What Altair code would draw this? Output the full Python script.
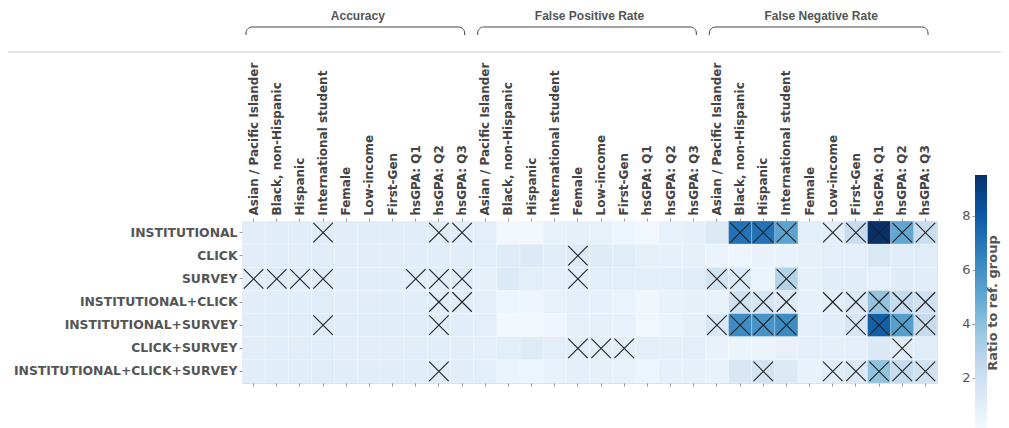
import altair as alt
import pandas as pd

models = ["INSTITUTIONAL", "CLICK", "SURVEY", "INSTITUTIONAL+CLICK",
          "INSTITUTIONAL+SURVEY", "CLICK+SURVEY", "INSTITUTIONAL+CLICK+SURVEY"]
metrics = ["Accuracy", "False Positive Rate", "False Negative Rate"]
subgroups = ["Asian / Pacific Islander", "Black, non-Hispanic", "Hispanic",
             "International student", "Female", "Low-income", "First-Gen",
             "hsGPA: Q1", "hsGPA: Q2", "hsGPA: Q3"]

# ratio to reference group, one list per model (rows), one value per subgroup
accuracy_ratio = [
    [1.02, 1.03, 1.03, 1.12, 1.02, 1.03, 1.03, 1.04, 1.06, 1.06],
    [1.02, 1.03, 1.04, 1.05, 1.02, 1.02, 1.02, 1.03, 1.03, 1.03],
    [1.06, 1.15, 1.07, 1.10, 1.03, 1.03, 1.03, 1.06, 1.08, 1.08],
    [1.02, 1.04, 1.04, 1.08, 1.02, 1.03, 1.03, 1.04, 1.06, 1.06],
    [1.03, 1.06, 1.05, 1.12, 1.03, 1.03, 1.03, 1.05, 1.08, 1.06],
    [1.02, 1.03, 1.05, 1.05, 1.02, 1.02, 1.02, 1.03, 1.03, 1.03],
    [1.03, 1.05, 1.05, 1.08, 1.03, 1.03, 1.03, 1.05, 1.07, 1.05],
]
fpr_ratio = [
    [0.95, 0.30, 0.30, 0.75, 0.85, 0.75, 0.50, 0.30, 0.75, 0.90],
    [1.00, 1.15, 1.30, 1.05, 1.20, 1.15, 1.10, 0.85, 0.80, 0.85],
    [0.85, 1.30, 1.00, 0.90, 1.05, 1.00, 1.00, 1.00, 1.00, 1.05],
    [0.95, 0.50, 0.45, 0.75, 0.90, 0.80, 0.60, 0.40, 0.70, 0.85],
    [0.95, 0.25, 0.25, 0.45, 0.85, 0.85, 0.75, 0.30, 0.55, 0.85],
    [0.90, 1.00, 1.20, 1.00, 1.05, 1.00, 1.00, 0.95, 0.90, 0.95],
    [1.00, 0.55, 0.50, 0.70, 0.90, 0.85, 0.75, 0.50, 0.80, 0.85],
]
fnr_ratio = [
    [1.28, 7.10, 7.10, 5.20, 1.00, 1.00, 2.30, 9.50, 5.05, 2.25],
    [0.55, 0.50, 0.65, 0.65, 0.85, 0.97, 0.97, 1.40, 1.07, 1.07],
    [1.80, 1.30, 0.55, 2.95, 0.85, 1.03, 1.03, 0.80, 1.12, 1.05],
    [0.70, 1.90, 1.65, 1.30, 0.78, 1.00, 1.35, 3.80, 2.40, 1.95],
    [1.40, 6.10, 5.80, 6.15, 0.90, 1.03, 1.55, 7.75, 5.40, 2.35],
    [0.65, 0.55, 0.55, 0.72, 0.90, 0.90, 0.90, 1.35, 1.08, 1.08],
    [0.65, 1.45, 1.75, 1.28, 0.65, 1.08, 1.35, 3.85, 2.40, 1.90],
]
# 1 = cell marked with a cross
accuracy_cross = [
    [0, 0, 0, 1, 0, 0, 0, 0, 1, 1],
    [0, 0, 0, 0, 0, 0, 0, 0, 0, 0],
    [1, 1, 1, 1, 0, 0, 0, 1, 1, 1],
    [0, 0, 0, 0, 0, 0, 0, 0, 1, 1],
    [0, 0, 0, 1, 0, 0, 0, 0, 1, 0],
    [0, 0, 0, 0, 0, 0, 0, 0, 0, 0],
    [0, 0, 0, 0, 0, 0, 0, 0, 1, 0],
]
fpr_cross = [
    [0, 0, 0, 0, 0, 0, 0, 0, 0, 0],
    [0, 0, 0, 0, 1, 0, 0, 0, 0, 0],
    [0, 0, 0, 0, 1, 0, 0, 0, 0, 0],
    [0, 0, 0, 0, 0, 0, 0, 0, 0, 0],
    [0, 0, 0, 0, 0, 0, 0, 0, 0, 0],
    [0, 0, 0, 0, 1, 1, 1, 0, 0, 0],
    [0, 0, 0, 0, 0, 0, 0, 0, 0, 0],
]
fnr_cross = [
    [0, 1, 1, 1, 0, 1, 1, 1, 1, 1],
    [0, 0, 0, 0, 0, 0, 0, 0, 0, 0],
    [1, 1, 0, 1, 0, 0, 0, 0, 0, 0],
    [0, 1, 1, 1, 0, 1, 1, 1, 1, 1],
    [1, 1, 1, 1, 0, 0, 1, 1, 1, 1],
    [0, 0, 0, 0, 0, 0, 0, 0, 1, 0],
    [0, 0, 1, 0, 0, 1, 1, 1, 1, 1],
]
legend_ticks = [2, 4, 6, 8]
legend_title = "Ratio to ref. group"
blues = ["#f7fbff", "#deebf7", "#c6dbef", "#9ecae1", "#6baed6",
         "#4292c6", "#2171b5", "#08519c", "#08306b"]
vmin, vmax = 0.0, 9.5

values_by_metric = [accuracy_ratio, fpr_ratio, fnr_ratio]
cross_by_metric = [accuracy_cross, fpr_cross, fnr_cross]

col_keys = [f"{m}|{g}" for m in metrics for g in subgroups]
records = []
for mi, metric in enumerate(metrics):
    for ri, model in enumerate(models):
        for gi, grp in enumerate(subgroups):
            records.append({
                "col": f"{metric}|{grp}",
                "model": model,
                "ratio": values_by_metric[mi][ri][gi],
                "cross": cross_by_metric[mi][ri][gi],
            })
df = pd.DataFrame(records)

n_sub = len(subgroups)
grp_df = pd.DataFrame({
    "metric": metrics,
    "start": [i * n_sub for i in range(len(metrics))],
    "end": [(i + 1) * n_sub for i in range(len(metrics))],
    "mid": [i * n_sub + n_sub / 2 for i in range(len(metrics))],
})
tick_df = pd.DataFrame({"v": legend_ticks})

W, H = 695, 162
# colour bar geometry (plot-relative pixels)
CB_X, CB_TOP, CB_LEN, CB_W = 733, -46, 257, 12

stops = [vmin + (vmax - vmin) * i / (len(blues) - 1) for i in range(len(blues))]

xscale = alt.Scale(domain=col_keys, paddingInner=0, paddingOuter=0)
yscale = alt.Scale(domain=models, paddingInner=0, paddingOuter=0)

yaxis = alt.Axis(title=None, labelFont="DejaVu Sans", labelFontSize=12.4,
                 labelFontWeight="bold", labelColor="#555555", tickSize=3,
                 tickColor="#999999", domain=False, labelPadding=2,
                 labelLimit=400)
yenc = alt.Y("model:N", scale=yscale, sort=models, axis=yaxis)

x_top = alt.X("col:N", scale=xscale, sort=col_keys,
              axis=alt.Axis(orient="top", title=None, labelAngle=270,
                            labelExpr="split(datum.label, '|')[1]",
                            labelFont="DejaVu Sans", labelFontSize=12,
                            labelFontWeight="bold", labelColor="#444444",
                            labelPadding=3, tickSize=3, tickColor="#999999",
                            domain=False, labelOverlap=False, labelLimit=300))
x_bottom = alt.X("col:N", scale=xscale, sort=col_keys,
                 axis=alt.Axis(orient="bottom", title=None, labels=False,
                               tickSize=3, tickColor="#999999", domain=False))

rect = alt.Chart(df).mark_rect(
    stroke="white", strokeWidth=0.6, strokeOpacity=0.35,
).encode(
    x=x_top, y=yenc,
    color=alt.Color("ratio:Q",
                    scale=alt.Scale(domain=stops, range=blues, interpolate="rgb"),
                    legend=alt.Legend(
                        orient="none", legendX=CB_X, legendY=CB_TOP,
                        direction="vertical", gradientLength=CB_LEN,
                        gradientThickness=CB_W, gradientStrokeWidth=0,
                        values=[4], labelOpacity=0, padding=0, title=None)),
)

crosses = alt.Chart(df[df["cross"] == 1]).mark_point(
    shape="M-1,-1L1,1M1,-1L-1,1", size=380, filled=False,
    stroke="#222222", strokeWidth=1.1, opacity=1,
).encode(x=x_bottom, y=yenc)

heat = alt.layer(rect, crosses).resolve_axis(x="independent")

qx_scale = alt.Scale(domain=[0, len(col_keys)], nice=False, zero=False)

bracket = alt.Chart(grp_df).mark_rect(
    fill="white", stroke="#444444", strokeWidth=1, cornerRadius=6,
    xOffset=4, x2Offset=-9,
).encode(x=alt.X("start:Q", scale=qx_scale, axis=None), x2="end:Q",
         y=alt.value(-194), y2=alt.value(-176))

cover = alt.Chart(grp_df).mark_rect(
    fill="white", xOffset=1, x2Offset=-6,
).encode(x=alt.X("start:Q", scale=qx_scale, axis=None), x2="end:Q",
         y=alt.value(-186), y2=alt.value(-172))

titles = alt.Chart(grp_df).mark_text(
    font="Liberation Sans", fontSize=12, fontWeight="bold", color="#555555",
    baseline="middle", align="center",
).encode(x=alt.X("mid:Q", scale=qx_scale, axis=None), y=alt.value(-205),
         text="metric:N")

sep = alt.Chart(pd.DataFrame({"k": [0]})).mark_rule(
    color="#c8c8c8", strokeWidth=1,
).encode(x=alt.value(-234), x2=alt.value(W + 64), y=alt.value(-169))

# colour-bar tick labels: axis on a linear scale matching the gradient
cbar_axis = alt.Chart(tick_df).mark_point(opacity=0).encode(
    x=alt.value(CB_X),
    y=alt.Y("v:Q",
            scale=alt.Scale(domain=[vmin, vmax], range=[CB_TOP + CB_LEN, CB_TOP],
                            nice=False, zero=False),
            axis=alt.Axis(orient="left", offset=-CB_X, values=legend_ticks,
                          title=None, domain=False, grid=False, tickSize=3,
                          tickColor="#999999", labelFont="DejaVu Sans",
                          labelFontSize=13, labelColor="#555555",
                          labelPadding=2)),
)

cbar_title = alt.Chart(pd.DataFrame({"t": [legend_title]})).mark_text(
    angle=270, font="DejaVu Sans", fontSize=13, fontWeight="bold",
    color="#555555", align="center", baseline="alphabetic",
).encode(x=alt.value(CB_X + CB_W + 10), y=alt.value(CB_TOP + 128), text="t:N")

chart = alt.layer(heat, bracket, cover, titles, sep, cbar_axis, cbar_title).resolve_scale(
    x="independent", y="independent"
).properties(
    width=W, height=H,
    autosize=alt.AutoSizeParams(type="none"),
    padding={"left": 234, "top": 213, "right": 64, "bottom": 45},
).configure_view(stroke=None).configure(background="white")

chart.save("out.html", embed_options={"renderer": "svg", "actions": False})
